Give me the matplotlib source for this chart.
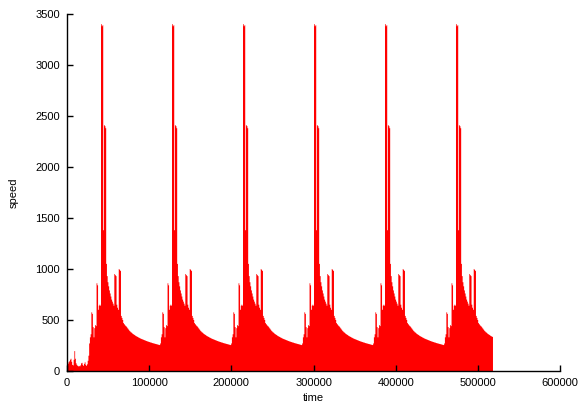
#!/usr/bin/env python3
"""Plot speed over six days of samples as a filled step series"""

import numpy as np
import matplotlib
matplotlib.use('Agg')
import matplotlib.pyplot as plt

BIN = 900  # seconds per sample
NDAYS = 6

# first night (00:00 - 07:30), before any traffic
first_night = [50, 70, 85, 95, 110, 120, 90, 60, 55, 110,
               195, 120, 75, 60, 50, 45, 50, 45, 55, 75,
               80, 60, 50, 70, 85, 60, 50, 65, 100, 150]

# following nights (00:00 - 07:30): tail of the previous day's decay
tail_night = [330, 326, 322, 318, 315, 312, 309, 306, 303, 300,
              297, 294, 291, 289, 286, 284, 281, 279, 277, 274,
              272, 270, 268, 266, 264, 262, 260, 258, 256, 254]

# day part (07:30 - 24:00)
day_part = [270, 330, 360, 575, 560, 430, 330, 420, 450, 440,
            860, 840, 600, 640, 650, 640, 3400, 3380, 3390, 1380,
            2410, 2400, 2380, 1050, 930, 870, 830, 790, 760, 730,
            700, 680, 660, 640, 950, 940, 930, 650, 620, 600,
            1000, 990, 980, 540, 520, 500, 470, 460, 450, 440,
            435, 425, 415, 405, 395, 388, 380, 375, 368, 362,
            357, 352, 347, 342, 338, 334]

xticks = [0, 100000, 200000, 300000, 400000, 500000, 600000]
yticks = [0, 500, 1000, 1500, 2000, 2500, 3000, 3500]


def build_series():
    speed = list(first_night) + list(day_part)
    for _ in range(NDAYS - 1):
        speed += list(tail_night) + list(day_part)
    speed = np.array(speed, dtype=float)
    edges = np.arange(len(speed) + 1) * BIN
    return edges, speed


def main():
    plt.rcParams['font.family'] = ['Liberation Sans', 'DejaVu Sans']
    edges, speed = build_series()

    fig = plt.figure(figsize=(5.78, 4.08), dpi=100)
    ax = fig.add_axes([0.1159, 0.0907, 0.853, 0.875])
    ax.stairs(speed, edges, fill=True, color='#ff0000', linewidth=0)

    ax.set_xlim(0, 600000)
    ax.set_ylim(0, 3500)
    ax.set_xticks(xticks)
    ax.set_yticks(yticks)
    ax.set_xticklabels([str(t) for t in xticks])
    ax.set_yticklabels([str(t) for t in yticks])

    for side in ('top', 'right'):
        ax.spines[side].set_visible(False)
    for side in ('left', 'bottom'):
        ax.spines[side].set_linewidth(1.0)
        ax.spines[side].set_color('black')
    ax.tick_params(direction='in', length=4, width=1, labelsize=8,
                   colors='black', pad=5)

    ax.set_xlabel('time', fontsize=8, labelpad=4)
    ax.set_ylabel('speed', fontsize=8, labelpad=12)

    fig.savefig('out.png', dpi=100)


if __name__ == "__main__":
    main()
